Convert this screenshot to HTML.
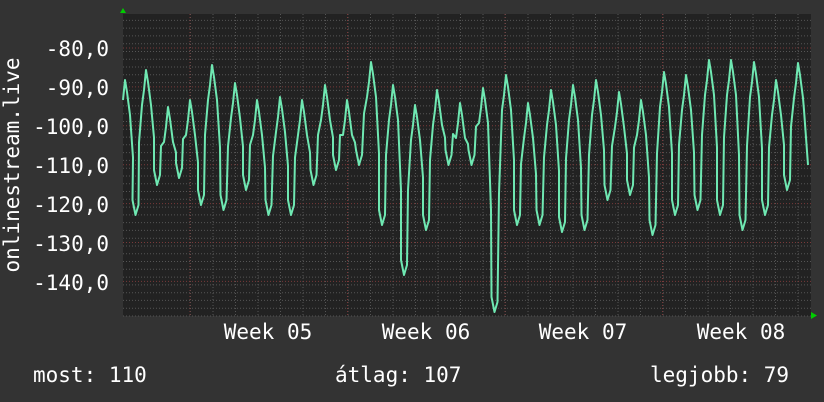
<!DOCTYPE html>
<html><head><meta charset="utf-8"><style>
html,body{margin:0;padding:0;background:#333;}
body{width:824px;height:402px;overflow:hidden;position:relative;font-family:"DejaVu Sans Mono","Liberation Mono",monospace;color:#fff;}
.t{position:absolute;font-size:21px;white-space:pre;line-height:24px;}
</style></head><body>
<svg id="s" width="824" height="402" style="position:absolute;left:0;top:0">
<rect x="123" y="14" width="688" height="302" fill="#222"/>
<g id="grid"></g>
<polyline id="ln" fill="none" stroke="#6fe8b2" stroke-width="2" stroke-linejoin="round"/>
<polygon points="120,13 126,13 123,8" fill="#0c0"/>
<polygon points="811,312 811,319 817,315.5" fill="#0c0"/>
<g font-family="DejaVu Sans Mono, Liberation Mono, monospace" font-size="21" fill="#fff" text-anchor="end">
<text x="109" y="56">-80,0</text>
<text x="109" y="95">-90,0</text>
<text x="109" y="134">-100,0</text>
<text x="109" y="173">-110,0</text>
<text x="109" y="212">-120,0</text>
<text x="109" y="251">-130,0</text>
<text x="109" y="290">-140,0</text>
</g>
<g font-family="DejaVu Sans Mono, Liberation Mono, monospace" font-size="21" fill="#fff" text-anchor="middle">
<text x="268" y="339">Week 05</text>
<text x="426" y="339">Week 06</text>
<text x="583" y="339">Week 07</text>
<text x="741" y="339">Week 08</text>
<text transform="translate(19,165) rotate(-90)">onlinestream.live</text>
</g>
</svg>
<div class="t" style="left:33px;top:363px">most: 110</div>
<div class="t" style="left:335px;top:363px">átlag: 107</div>
<div class="t" style="left:650px;top:363px">legjobb: 79</div>
<script>
var g=document.getElementById('grid'),h='';
for(var y=316;y>14;y-=7.78){h+='<line x1="123" x2="811" y1="'+y.toFixed(1)+'" y2="'+y.toFixed(1)+'" stroke="#555" stroke-dasharray="1,2"/>';}
for(var x=123+22.5*3;x<811;x+=22.5){h+='<line y1="14" y2="316" x1="'+x.toFixed(1)+'" x2="'+x.toFixed(1)+'" stroke="#555" stroke-dasharray="1,2"/>';}
[48,86.9,125.8,164.7,203.6,242.5,281.4].forEach(function(y){h+='<line x1="123" x2="811" y1="'+y+'" y2="'+y+'" stroke="#7a3a3a" stroke-dasharray="1,2"/>';});
[190,347.5,505,662.5].forEach(function(x){h+='<line y1="14" y2="316" x1="'+x+'" x2="'+x+'" stroke="#7a3a3a" stroke-dasharray="1,2"/>';});
g.innerHTML=h;
var pk=[[125,80],[146,70],[168,107],[190,100],[212,65],[235,83],[257,100],[280,97],[302,100],[325,85],[347,100],[371,62],[393,85],[415,105],[437,90],[460,103],[483,88],[506,75],[528,103],[551,90],[573,85],[596,80],[619,92],[641,100],[664,72],[686,75],[709,60],[731,60],[754,62],[776,80],[798,63]];
var tr=[215,185,178,205,210,190,215,215,185,170,165,225,275,230,165,165,312,225,225,232,230,200,195,235,215,210,215,230,215,190];
var p=[];
for(var i=0;i<pk.length;i++){
 var x=pk[i][0],y=pk[i][1];
 p.push([x-2,y+20],[x,y],[x+2,y+12],[x+5,y+35]);
 if(i<tr.length){var nx=pk[i+1][0],t=tr[i],m=(x+nx)/2;
  p.push([x+8,(y+t)/2+10],[m-3,t-15],[m,t],[m+3,t-10],[nx-7,(pk[i+1][1]+t)/2],[nx-4,pk[i+1][1]+35]);}
}
p.push([804,110],[808,165]);
document.getElementById('ln').setAttribute('points',p.map(function(a){return a[0]+','+a[1]}).join(' '));
</script>
</body></html>
